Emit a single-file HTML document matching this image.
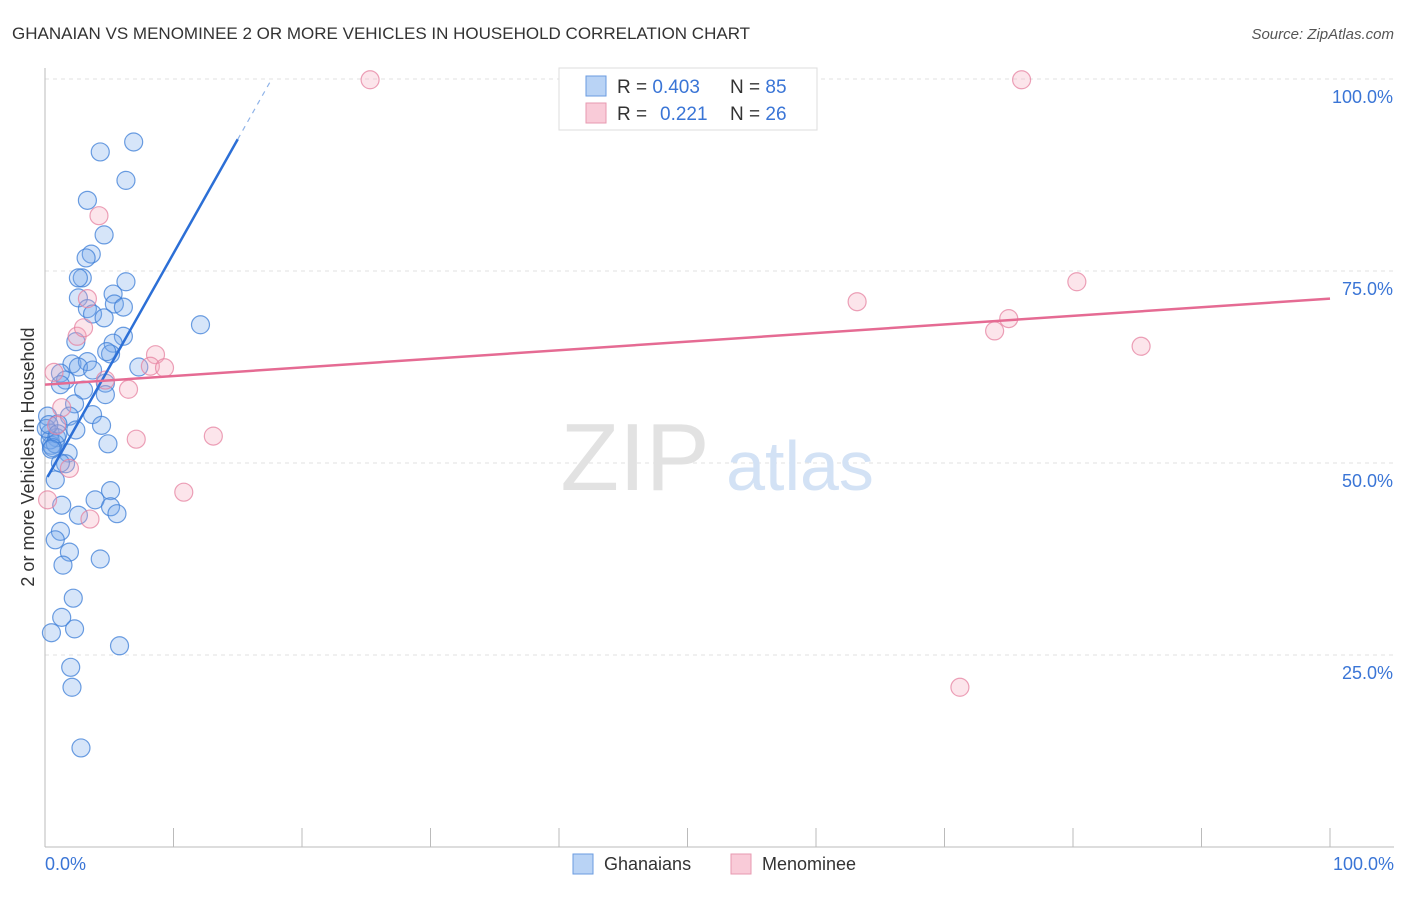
<!DOCTYPE html>
<html><head><meta charset="utf-8"><style>
body{margin:0;background:#fff;font-family:"Liberation Sans",sans-serif;}
svg text{font-family:"Liberation Sans",sans-serif;}
</style></head><body>
<svg width="1406" height="892" xmlns="http://www.w3.org/2000/svg" id="chart">
<text x="12" y="39" font-size="17" fill="#333">GHANAIAN VS MENOMINEE 2 OR MORE VEHICLES IN HOUSEHOLD CORRELATION CHART</text>
<text x="1394" y="39" font-size="15" fill="#555" font-style="italic" text-anchor="end">Source: ZipAtlas.com</text>
<g id="grid"></g>
<g><text x="635" y="490" font-size="96" fill="#e2e2e2" font-family="Liberation Serif" text-anchor="middle">ZIP</text><text x="800" y="490" font-size="70" fill="#d3e2f5" text-anchor="middle">atlas</text></g>
<line x1="45" y1="68" x2="45" y2="847" stroke="#bbb"/>
<line x1="45" y1="847" x2="1394" y2="847" stroke="#bbb"/>
<g id="xticks"></g>
<text x="45" y="870" font-size="18" fill="#3a75d6">0.0%</text>
<text x="1394" y="870" font-size="18" fill="#3a75d6" text-anchor="end">100.0%</text>
<text transform="translate(34,457) rotate(-90)" font-size="18" fill="#333" text-anchor="middle">2 or more Vehicles in Household</text>
<g id="pts"></g>
<g id="lines"></g>
<g>
<rect x="559" y="68" width="258" height="62" fill="#fff" stroke="#ddd"/>
<rect x="586" y="76" width="20" height="20" fill="#b9d3f5" stroke="#6a9be0"/>
<rect x="586" y="103" width="20" height="20" fill="#f9cbd8" stroke="#e79ab0"/>
<text x="617" y="93" font-size="19" fill="#333">R = <tspan fill="#3a75d6">0.403</tspan><tspan x="730">N = </tspan><tspan fill="#3a75d6">85</tspan></text>
<text x="617" y="120" font-size="19" fill="#333">R = <tspan fill="#3a75d6" x="660">0.221</tspan><tspan x="730">N = </tspan><tspan fill="#3a75d6">26</tspan></text>
</g>
<g>
<rect x="573" y="854" width="20" height="20" fill="#b9d3f5" stroke="#6a9be0"/>
<text x="604" y="870" font-size="18" fill="#333">Ghanaians</text>
<rect x="731" y="854" width="20" height="20" fill="#f9cbd8" stroke="#e79ab0"/>
<text x="762" y="870" font-size="18" fill="#333">Menominee</text>
</g>
</svg>
<script>
const yTicks=[25,50,75,100];
const yTickLabels=["25.0%","50.0%","75.0%","100.0%"];
const blueX=[6.9,4.3,6.3,3.3,4.6,3.6,3.2,2.9,2.6,6.3,5.3,2.6,5.4,3.3,6.1,3.7,4.6,12.1,6.1,2.4,5.3,5.1,4.8,2.1,3.3,2.6,3.7,7.3,1.2,1.6,1.2,4.7,3.0,4.7,2.3,1.9,3.7,0.2,1.0,4.4,2.4,0.4,0.9,0.5,4.9,1.8,1.6,0.8,5.1,3.9,1.3,5.1,5.6,2.6,1.2,0.8,1.9,4.3,1.4,2.2,1.3,2.3,0.5,5.8,2.0,2.1,2.8,0.4,0.8,0.1,1.2,0.6,0.3,1.0,0.5];
const blueY=[91.8,90.5,86.8,84.2,79.7,77.2,76.7,74.1,74.1,73.6,72.0,71.5,70.7,70.1,70.3,69.4,68.9,68.0,66.5,65.8,65.6,64.2,64.5,62.9,63.2,62.5,62.1,62.5,61.7,60.8,60.2,60.4,59.5,58.9,57.7,56.1,56.3,56.1,55.1,54.9,54.3,53.9,53.3,52.3,52.5,51.3,49.9,47.8,46.4,45.2,44.5,44.3,43.4,43.2,41.1,40.0,38.4,37.5,36.7,32.4,29.9,28.4,27.9,26.2,23.4,20.8,12.9,53.0,52.5,54.5,50.0,52.0,55.0,53.8,51.8];
const pinkX=[25.3,76.0,4.2,63.2,80.3,3.3,2.5,3.0,75.0,73.9,85.3,8.6,8.2,9.3,0.7,4.7,6.5,1.3,0.9,7.1,13.1,1.9,10.8,0.2,3.5,71.2];
const pinkY=[99.9,99.9,82.2,71.0,73.6,71.4,66.5,67.6,68.8,67.2,65.2,64.1,62.6,62.4,61.8,60.8,59.6,57.2,54.9,53.1,53.5,49.3,46.2,45.2,42.7,20.8];
const blueTrend=[47.6,2.97];
const pinkTrend=[60.2,0.112];
const X=v=>45+v*12.85, Y=v=>847-v*7.68;
const NS="http://www.w3.org/2000/svg";
function mk(t,a,p){const e=document.createElementNS(NS,t);for(const k in a)e.setAttribute(k,a[k]);p.appendChild(e);return e;}
const grid=document.getElementById('grid');
yTicks.forEach((t,i)=>{
 const l=mk('line',{x1:45,x2:1394,y1:Y(t),y2:Y(t),stroke:'#e2e2e2','stroke-dasharray':'4,4'},grid);
 
 
 const tx=mk('text',{x:1393,y:Y(t)+24,'font-size':18,fill:'#3a75d6','text-anchor':'end'},grid);
 tx.textContent=yTickLabels[i];
 
 
});
const xt=document.getElementById('xticks');
for(let i=1;i<=10;i++){const l=mk('line',{x1:X(i*10),x2:X(i*10),y1:828,y2:847,stroke:'#bbb'},xt);
 
 }
const pts=document.getElementById('pts');
blueX.forEach((x,i)=>{const c=mk('circle',{cx:X(x),cy:Y(blueY[i]),r:9,fill:'rgba(120,170,235,0.3)',stroke:'rgba(60,125,215,0.75)','stroke-width':1.2},pts);
 
 });
pinkX.forEach((x,i)=>{const c=mk('circle',{cx:X(x),cy:Y(pinkY[i]),r:9,fill:'rgba(245,170,190,0.3)',stroke:'rgba(230,130,160,0.75)','stroke-width':1.2},pts);
 
 });
const ln=document.getElementById('lines');
const b1=mk('line',{x1:X(0.2),y1:Y(blueTrend[0]+blueTrend[1]*0.2),x2:X(15),y2:Y(blueTrend[0]+blueTrend[1]*15),stroke:'#2c6fd6','stroke-width':2.5},ln);


const xe=(100-blueTrend[0])/blueTrend[1];
const b2=mk('line',{x1:X(15),y1:Y(blueTrend[0]+blueTrend[1]*15),x2:X(xe),y2:Y(100),stroke:'#8fb3e8','stroke-width':1.2,'stroke-dasharray':'5,5'},ln);


const p1=mk('line',{x1:X(0),y1:Y(pinkTrend[0]),x2:X(100),y2:Y(pinkTrend[0]+pinkTrend[1]*100),stroke:'#e56b93','stroke-width':2.5},ln);


</script>
</body></html>
